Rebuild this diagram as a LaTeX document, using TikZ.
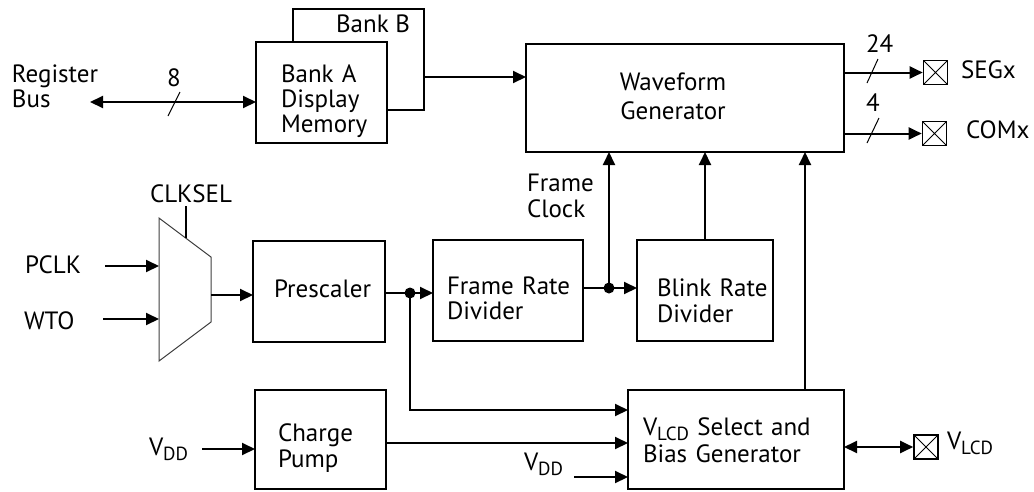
\documentclass[tikz,border=0pt]{standalone}
\usepackage{fontspec}
\setmainfont{PT Sans}
\usetikzlibrary{arrows.meta}
\newcommand\lowsub[1]{\raisebox{-5pt}{\fontsize{19}{19}\selectfont #1}}
\begin{document}
\begin{tikzpicture}[x=1pt,y=-1pt,
  blk/.style={draw,line width=2.2pt,inner sep=0pt,outer sep=0pt},
  lbl/.style={inner sep=0pt,outer sep=0pt,font=\fontsize{25}{26}\selectfont},
  mlbl/.style={lbl,text width=220pt,align=left,anchor=base west},
  wire/.style={line width=2pt},
  arr/.style={wire,-{Triangle[length=13pt,width=12pt]}},
  barr/.style={wire,{Triangle[length=13pt,width=12pt]}-{Triangle[length=13pt,width=12pt]}},
  xbox/.style={draw,line width=1.6pt,inner sep=0pt,minimum width=24pt,minimum height=24pt,
    path picture={\draw[line width=1pt] (path picture bounding box.south west) -- (path picture bounding box.north east)
      (path picture bounding box.north west) -- (path picture bounding box.south east);}},
  slash/.style={line width=1pt},
  dot/.style={fill}
]
\fill[white] (0,0) rectangle (1034,491);
\useasboundingbox (0,0) rectangle (1034,491);

% ---- blocks
\node[blk,minimum width=131pt,minimum height=101pt] (bankB) at (358.5,59.5) {};
\node[blk,fill=white,minimum width=131pt,minimum height=101pt] (bankA) at (321.5,92.5) {};
\node[blk,minimum width=318pt,minimum height=108pt] (wave) at (685,98) {};
\node[blk,minimum width=132pt,minimum height=101pt] (pre) at (319,291.5) {};
\node[blk,minimum width=150pt,minimum height=101pt] (frd) at (508,290.5) {};
\node[blk,minimum width=136pt,minimum height=101pt] (brd) at (705,290.5) {};
\node[blk,minimum width=131pt,minimum height=99pt] (cp) at (320.5,439.5) {};
\node[blk,minimum width=216pt,minimum height=99pt] (vlcd) at (736,439.5) {};

% ---- block texts
\node[lbl,anchor=base east] (tbankB) at (410,32) {Bank B};
\node[mlbl,font=\fontsize{25}{25}\selectfont] (tbankA) at (281,82) {Bank A\\Display\\Memory};
\node[lbl,text width=220pt,align=center,anchor=base,font=\fontsize{25}{29}\selectfont] (twave) at (673,90) {Waveform\\Generator};
\node[lbl,anchor=base west] (tpre) at (274,297) {Prescaler};
\node[mlbl,font=\fontsize{25}{25}\selectfont] (tfrd) at (447,294) {Frame Rate\\Divider};
\node[mlbl] (tbrd) at (657,296) {Blink Rate\\Divider};
\node[mlbl] (tcp) at (278,441) {Charge\\Pump};
\node[mlbl,font=\fontsize{25}{27}\selectfont] (tvlcd) at (643,435) {V\lowsub{LCD} Select and\\Bias Generator};

% ---- outside labels
\node[mlbl,font=\fontsize{25}{25}\selectfont] (treg) at (12,82) {Register\\Bus};
\node[lbl,anchor=base west] (t8) at (167,86) {8};
\node[lbl,anchor=base west] (t24) at (866,52) {24};
\node[lbl,anchor=base west] (t4) at (866,111) {4};
\node[lbl,anchor=base west] (tseg) at (961,78) {SEGx};
\node[lbl,anchor=base west] (tcom) at (966,138) {COMx};
\node[mlbl] (tfc) at (527,191) {Frame\\Clock};
\node[lbl,anchor=base west] (tclk) at (150,202) {CLKSEL};
\node[lbl,anchor=base west] (tpclk) at (25,273) {PCLK};
\node[lbl,anchor=base west] (twto) at (24,329) {WTO};
\node[lbl,anchor=base west] (tvdd1) at (149,455) {V\lowsub{DD}};
\node[lbl,anchor=base west] (tvdd2) at (524,470) {V\lowsub{DD}};
\node[lbl,anchor=base west] (tvl) at (947,449) {V\lowsub{LCD}};

% ---- pins
\node[xbox] (seg) at (935.5,72.5) {};
\node[xbox] (com) at (934.5,133.5) {};
\node[xbox] (vpin) at (926,447) {};

% ---- multiplexer
\draw[line width=1pt,black!75] (159,218) -- (211,257) -- (211,322) -- (159,361) -- cycle;
\coordinate (muxsel) at (186,238);
\coordinate (muxin1) at (159,266);
\coordinate (muxin2) at (159,319);
\coordinate (muxout) at (211,295);
\coordinate (clktop) at (186,206);

% ---- helper coordinates
\coordinate (rb) at (90,102);
\coordinate (yB) at (0,77);
\coordinate (pclkS) at (105,266);
\coordinate (wtoS) at (103,319);
\coordinate (d1) at (410,293);
\coordinate (d2) at (609,288);
\coordinate (yPS) at (0,410);
\coordinate (yCP) at (0,443);
\coordinate (vdd1S) at (202,449);
\coordinate (vdd2S) at (574,477);
\coordinate (xV) at (805,0);

% ---- connectors
\draw[barr] (rb) -- (bankA.west |- rb);
\draw[slash] (168,116) -- (180,92);
\draw[arr] (bankB.east |- yB) -- (wave.west |- yB);
\draw[arr] (wave.east |- seg) -- (seg.west);
\draw[arr] (wave.east |- com) -- (com.west);
\draw[slash] (867,83) -- (878,59);
\draw[slash] (867,143) -- (879,118);

\draw[wire] (clktop) -- (muxsel);
\draw[arr] (pclkS) -- (muxin1);
\draw[arr] (wtoS) -- (muxin2);
\draw[arr] (muxout) -- (pre.west |- muxout);

\draw[wire] (pre.east |- d1) -- (d1);
\draw[arr] (d1) -- (frd.west |- d1);
\draw[wire] (frd.east |- d2) -- (d2);
\draw[arr] (d2) -- (brd.west |- d2);
\draw[arr] (d2) -- (wave.south -| d2);
\draw[arr] (brd.north) -- (wave.south -| brd.north);
\draw[arr] (vlcd.north -| xV) -- (wave.south -| xV);
\draw[arr] (d1) |- (vlcd.west |- yPS);
\draw[arr] (cp.east |- yCP) -- (vlcd.west |- yCP);
\draw[arr] (vdd1S) -- (cp.west |- vdd1S);
\draw[arr] (vdd2S) -- (vlcd.west |- vdd2S);
\draw[barr] (vlcd.east |- vpin) -- (vpin.west);

\fill[dot] (d1) circle[radius=5.5pt];
\fill[dot] (d2) circle[radius=5.5pt];
\end{tikzpicture}
\end{document}
